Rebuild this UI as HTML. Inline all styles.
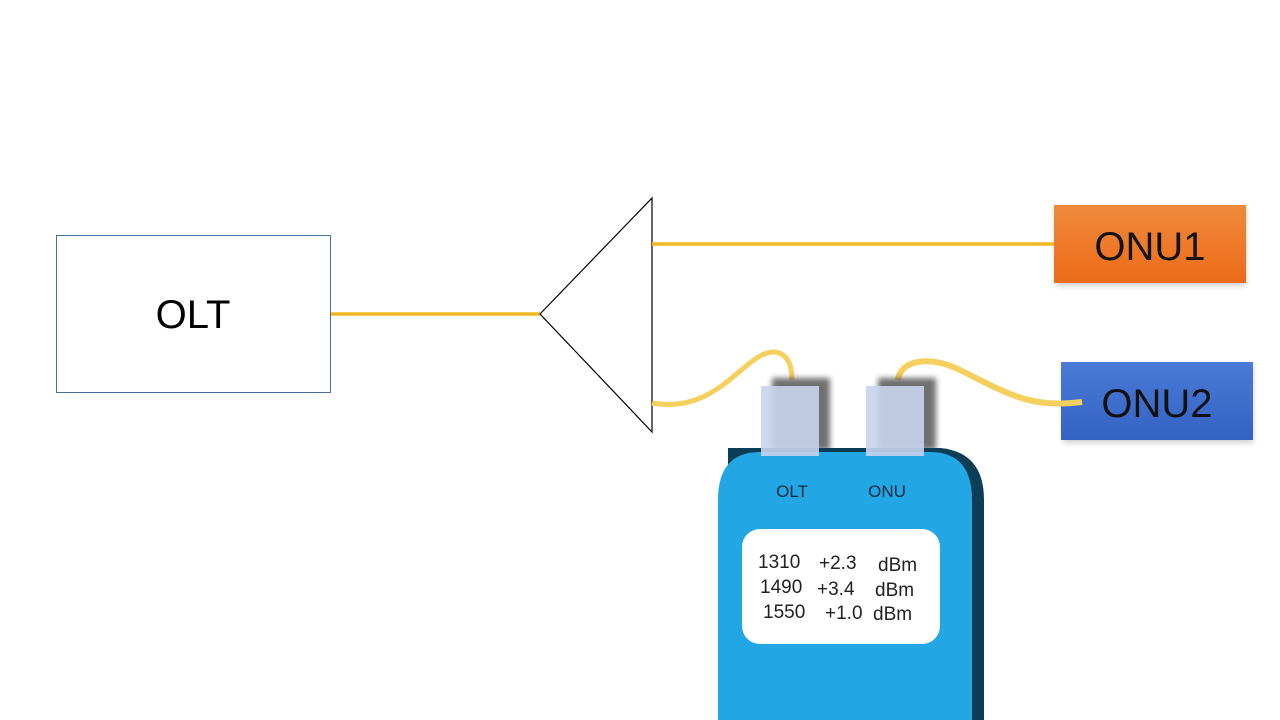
<!DOCTYPE html>
<html><head><meta charset="utf-8"><style>
html,body{margin:0;padding:0;background:#fff;width:1280px;height:720px;overflow:hidden}
svg text{font-family:"Liberation Sans",sans-serif}
</style></head><body>
<svg width="1280" height="720" viewBox="0 0 1280 720" xmlns="http://www.w3.org/2000/svg">
<defs>
<linearGradient id="og" x1="0" y1="0" x2="0" y2="1"><stop offset="0" stop-color="#f08a3c"/><stop offset="1" stop-color="#ec6a18"/></linearGradient>
<linearGradient id="bg" x1="0" y1="0" x2="0" y2="1"><stop offset="0" stop-color="#4a7bd6"/><stop offset="1" stop-color="#3462c4"/></linearGradient>
<filter id="bl"><feGaussianBlur stdDeviation="3"/></filter>
</defs>
<rect x="56.5" y="235.5" width="274" height="157" fill="#fff" stroke="#41719c" stroke-width="1"/>
<text x="193" y="328" font-size="40" text-anchor="middle" fill="#000">OLT</text>
<line x1="331" y1="314" x2="540" y2="314" stroke="#f2b824" stroke-width="3.5"/>
<polygon points="540,314 652,198 652,432" fill="#fff" stroke="#000" stroke-width="1.2"/>
<line x1="652" y1="244" x2="1054" y2="244" stroke="#f2b824" stroke-width="3.5"/>
<rect x="1056" y="208" width="190" height="78" fill="#888" opacity=".4" filter="url(#bl)"/>
<rect x="1054" y="205" width="192" height="78" fill="url(#og)"/>
<text x="1150" y="260" font-size="40" text-anchor="middle" fill="#111">ONU1</text>
<rect x="1063" y="365" width="190" height="78" fill="#888" opacity=".4" filter="url(#bl)"/>
<rect x="1061" y="362" width="192" height="78" fill="url(#bg)"/>
<text x="1157" y="417" font-size="40" text-anchor="middle" fill="#111">ONU2</text>
<path d="M652,403 C720,415 745,350 775,352 C790,354 792,370 792,380" fill="none" stroke="#f5d05e" stroke-width="5"/>
<path d="M898,380 C900,360 930,355 960,370 C1010,395 1030,408 1082,402" fill="none" stroke="#f5d05e" stroke-width="6"/>
<rect x="772" y="378" width="58" height="72" fill="#333" opacity=".7" filter="url(#bl)"/>
<rect x="878" y="378" width="58" height="72" fill="#333" opacity=".7" filter="url(#bl)"/>
<path d="M728,448 L940,448 Q984,452 984,500 L984,720 L728,720 Z" fill="#0d3e58"/>
<path d="M718,500 Q718,452 760,452 L930,452 Q972,452 972,500 L972,720 L718,720 Z" fill="#22a6e4"/>
<rect x="761" y="386" width="58" height="70" fill="#c8d4ec" opacity=".9"/>
<rect x="866" y="386" width="58" height="70" fill="#c8d4ec" opacity=".9"/>
<text x="792" y="497" font-size="17" text-anchor="middle" fill="#0a2a40">OLT</text>
<text x="887" y="497" font-size="17" text-anchor="middle" fill="#0a2a40">ONU</text>
<rect x="742" y="529" width="198" height="115" rx="18" fill="#fff"/>
<g font-size="19" fill="#222">
<text x="758" y="568">1310</text><text x="819" y="569">+2.3</text><text x="878" y="571">dBm</text>
<text x="760" y="593">1490</text><text x="817" y="595">+3.4</text><text x="875" y="596">dBm</text>
<text x="763" y="618">1550</text><text x="825" y="619">+1.0</text><text x="873" y="620">dBm</text>
</g>
</svg>
</body></html>
